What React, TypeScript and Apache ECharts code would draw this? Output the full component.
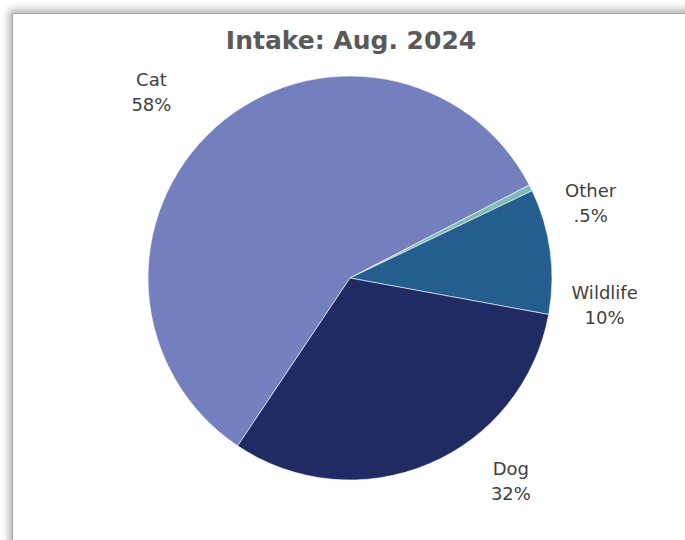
import React, { useEffect, useRef } from "react";
import * as echarts from "echarts";

const TITLE = "Intake: Aug. 2024";
const CATEGORIES = ["Cat", "Other", "Wildlife", "Dog"];
const VALUES = [58, 0.5, 10, 31.5];
const PERCENT_LABELS = ["58%", ".5%", "10%", "32%"];
const COLORS = ["#7480BE", "#7FBAB4", "#245E8F", "#212B63"];

// label anchors (style): [angle in degrees, distance from pie centre in px]
const LABEL_ANCHORS: [number, number][] = [
  [136.9, 272],
  [17.3, 252],
  [-6.0, 256],
  [-51.6, 259],
];

const W = 685;
const H = 540;
const CX = 350;
const CY = 278;
const R = 202;

export default function App() {
  const ref = useRef<HTMLDivElement>(null);
  useEffect(() => {
    if (!ref.current) return;
    const chart = echarts.init(ref.current, undefined, { renderer: "svg", width: W, height: H });
    chart.setOption({
      animation: false,
      backgroundColor: "transparent",
      title: {
        text: TITLE,
        left: 346,
        top: 23,
        textAlign: "center",
        textStyle: {
          fontFamily: "DejaVu Sans",
          fontWeight: "bold",
          fontSize: 25,
          color: "#595959",
        },
      },
      series: [
        {
          type: "pie",
          center: [CX, CY],
          radius: [0, R],
          startAngle: 236.2,
          clockwise: true,
          avoidLabelOverlap: false,
          itemStyle: { borderColor: "#ffffff", borderWidth: 0.6 },
          label: {
            show: true,
            position: "outside",
            formatter: (p: any) => `${p.name}\n${PERCENT_LABELS[p.dataIndex]}`,
            fontFamily: "DejaVu Sans",
            fontSize: 18,
            lineHeight: 25,
            color: "#404040",
            align: "center",
          },
          labelLine: { show: false },
          labelLayout: (params: any) => {
            const [a, d] = LABEL_ANCHORS[params.dataIndex];
            const rad = (a * Math.PI) / 180;
            return {
              x: CX + d * Math.cos(rad),
              y: CY - d * Math.sin(rad),
              align: "center",
              verticalAlign: "middle",
            };
          },
          data: CATEGORIES.map((name, i) => ({
            name,
            value: VALUES[i],
            itemStyle: { color: COLORS[i] },
          })),
        },
      ],
    });
    return () => chart.dispose();
  }, []);

  return (
    <div
      style={{
        position: "fixed",
        left: 0,
        top: 0,
        width: W,
        height: H,
        overflow: "hidden",
        background: "#ffffff",
      }}
    >
      <div
        style={{
          position: "absolute",
          left: 12,
          top: 13,
          width: 900,
          height: 800,
          border: "1.5px solid #a9a9a9",
          boxShadow: "0 0 8px 3px rgba(0,0,0,0.32)",
          background: "#ffffff",
        }}
      />
      <div ref={ref} style={{ position: "absolute", left: 0, top: 0, width: W, height: H }} />
    </div>
  );
}
